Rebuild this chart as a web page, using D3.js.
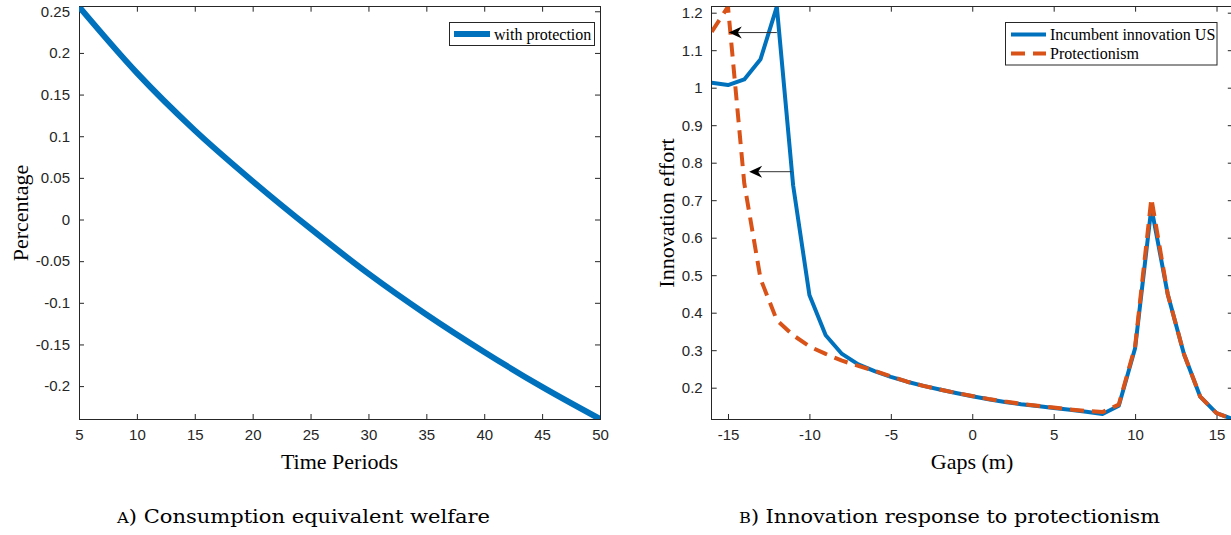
<!DOCTYPE html>
<html>
<head>
<meta charset="utf-8">
<script src="https://cdn.jsdelivr.net/npm/d3@7"></script>
<style>
  html, body { margin: 0; padding: 0; background: #fff; }
  svg { display: block; }
</style>
</head>
<body>
<svg id="chart" width="1231" height="535"></svg>
<script>
// ---------------- DATA ----------------
// Panel A: consumption equivalent welfare
const periods = [5, 10, 15, 20, 25, 30, 35, 40, 45, 50];
const welfare = [0.2555, 0.176, 0.107, 0.046, -0.011, -0.065, -0.114, -0.159, -0.201, -0.2395];
const welfareXTicks = [5, 10, 15, 20, 25, 30, 35, 40, 45, 50];
const welfareYTicks = [-0.2, -0.15, -0.1, -0.05, 0, 0.05, 0.1, 0.15, 0.2, 0.25];
const welfareYTickLabels = ["-0.2", "-0.15", "-0.1", "-0.05", "0", "0.05", "0.1", "0.15", "0.2", "0.25"];

// Panel B: innovation response to protectionism
const gaps = [-16, -15, -14, -13, -12, -11, -10, -9, -8, -7, -6, -5, -4, -3, -2, -1, 0,
              1, 2, 3, 4, 5, 6, 7, 8, 9, 10, 11, 12, 13, 14, 15, 16];
const incumbentUS = [1.013, 1.007, 1.022, 1.076, 1.216, 0.74, 0.447, 0.34, 0.29, 0.262, 0.244, 0.229, 0.216, 0.205, 0.195, 0.186, 0.177,
                     0.169, 0.162, 0.156, 0.151, 0.146, 0.141, 0.136, 0.130, 0.152, 0.305, 0.68, 0.45, 0.29, 0.176, 0.132, 0.1165];
const protectionism = [1.149, 1.216, 0.745, 0.49, 0.38, 0.34, 0.31, 0.29, 0.272, 0.258, 0.245, 0.23, 0.216, 0.205, 0.195, 0.186, 0.178,
                       0.170, 0.163, 0.157, 0.152, 0.147, 0.142, 0.138, 0.135, 0.155, 0.31, 0.705, 0.45, 0.29, 0.176, 0.132, 0.1165];
const gapXTicks = [-15, -10, -5, 0, 5, 10, 15];
const gapYTicks = [0.2, 0.3, 0.4, 0.5, 0.6, 0.7, 0.8, 0.9, 1.0, 1.1, 1.2];
const gapYTickLabels = ["0.2", "0.3", "0.4", "0.5", "0.6", "0.7", "0.8", "0.9", "1", "1.1", "1.2"];
// arrows: start gap, end gap, level
const arrowFrom = [-12.0, -11.1];
const arrowTo = [-14.95, -13.7];
const arrowLevel = [1.147, 0.776];

const seriesNames = ["Incumbent innovation US", "Protectionism"];
const welfareName = "with protection";

// ---------------- STYLE ----------------
const BLUE = "#0072BD", ORANGE = "#D95319", AXIS = "#262626";
const TICKFONT = "'Liberation Sans', Arial, sans-serif";
const SERIF = "'Liberation Serif', 'Times New Roman', serif";
const CAPFONT = "'DejaVu Serif', serif";

const svg = d3.select("#chart");

function drawPanel(opt) {
  const { x, y, xTicks, yTicks, yLabels, id } = opt;
  const [x0, x1] = x.range();
  const [y0, y1] = y.range(); // y0 bottom, y1 top
  const g = svg.append("g");

  g.append("clipPath").attr("id", id).append("rect")
    .attr("x", x0).attr("y", y1).attr("width", x1 - x0).attr("height", y0 - y1);

  const bx = g.append("g").attr("transform", `translate(0,${y0})`)
    .call(d3.axisBottom(x).tickValues(xTicks).tickSizeInner(-5).tickSizeOuter(0).tickPadding(10)
      .tickFormat(d => String(d)));
  const tx = g.append("g").attr("transform", `translate(0,${y1})`)
    .call(d3.axisTop(x).tickValues(xTicks).tickSizeInner(-5).tickSizeOuter(0).tickFormat(""));
  const ly = g.append("g").attr("transform", `translate(${x0},0)`)
    .call(d3.axisLeft(y).tickValues(yTicks).tickSizeInner(-5).tickSizeOuter(0).tickPadding(9)
      .tickFormat((d, i) => yLabels[i]));
  const ry = g.append("g").attr("transform", `translate(${x1},0)`)
    .call(d3.axisRight(y).tickValues(yTicks).tickSizeInner(-5).tickSizeOuter(0).tickFormat(""));

  [bx, tx, ly, ry].forEach(a => {
    a.select(".domain").remove();
    a.selectAll(".tick line").attr("stroke", AXIS).attr("stroke-width", 1);
    a.selectAll(".tick text").attr("fill", AXIS).style("font-family", TICKFONT).style("font-size", "15px");
  });
  bx.selectAll(".tick text").attr("dy", "0.71em");

  g.append("rect").attr("x", x0).attr("y", y1).attr("width", x1 - x0).attr("height", y0 - y1)
    .attr("fill", "none").attr("stroke", AXIS).attr("stroke-width", 1).attr("shape-rendering", "crispEdges");
  return g;
}

// ---------------- PANEL A ----------------
const xA = d3.scaleLinear().domain(d3.extent(periods)).range([79, 600]);
const yA = d3.scaleLinear().domain(d3.extent(welfare)).range([419, 6.7]);
const gA = drawPanel({ x: xA, y: yA, xTicks: welfareXTicks, yTicks: welfareYTicks, yLabels: welfareYTickLabels, id: "clipA" });

gA.append("path")
  .datum(periods.map((p, i) => [p, welfare[i]]))
  .attr("clip-path", "url(#clipA)")
  .attr("fill", "none").attr("stroke", BLUE).attr("stroke-width", 6)
  .attr("d", d3.line().x(d => xA(d[0])).y(d => yA(d[1])).curve(d3.curveMonotoneX));

// legend A
const legA = gA.append("g");
legA.append("rect").attr("x", 449.5).attr("y", 22.5).attr("width", 145).attr("height", 23)
  .attr("fill", "#fff").attr("stroke", AXIS).attr("stroke-width", 1);
legA.append("line").attr("x1", 454).attr("x2", 490).attr("y1", 34).attr("y2", 34)
  .attr("stroke", BLUE).attr("stroke-width", 6);
legA.append("text").attr("x", 494).attr("y", 39.5).text(welfareName)
  .style("font-family", SERIF).style("font-size", "16px").attr("fill", "#000");

// axis labels A
svg.append("text").attr("x", 339.5).attr("y", 469).attr("text-anchor", "middle")
  .style("font-family", SERIF).style("font-size", "22px").text("Time Periods");
svg.append("text").attr("transform", "translate(28,213) rotate(-90)").attr("text-anchor", "middle")
  .style("font-family", SERIF).style("font-size", "22px").text("Percentage");

// ---------------- PANEL B ----------------
const xB = d3.scaleLinear().domain(d3.extent(gaps)).range([711.7, 1232.8]);
const yB = d3.scaleLinear().domain(d3.extent(incumbentUS.concat(protectionism))).range([419, 6.7]);
const gB = drawPanel({ x: xB, y: yB, xTicks: gapXTicks, yTicks: gapYTicks, yLabels: gapYTickLabels, id: "clipB" });

const lineB = d3.line().x(d => xB(d[0])).y(d => yB(d[1]));
gB.append("path")
  .datum(gaps.map((v, i) => [v, incumbentUS[i]]))
  .attr("clip-path", "url(#clipB)")
  .attr("fill", "none").attr("stroke", BLUE).attr("stroke-width", 4).attr("stroke-linejoin", "round")
  .attr("d", lineB);
gB.append("path")
  .datum(gaps.map((v, i) => [v, protectionism[i]]))
  .attr("clip-path", "url(#clipB)")
  .attr("fill", "none").attr("stroke", ORANGE).attr("stroke-width", 4).attr("stroke-dasharray", "14,8")
  .attr("stroke-linejoin", "round")
  .attr("d", lineB);

// arrows
arrowFrom.forEach((a, i) => {
  const xs = xB(a), xe = xB(arrowTo[i]), yy = yB(arrowLevel[i]);
  gB.append("line").attr("x1", xs).attr("x2", xe + 6).attr("y1", yy).attr("y2", yy)
    .attr("stroke", "#333").attr("stroke-width", 1);
  gB.append("path")
    .attr("d", `M${xe},${yy} L${xe + 13},${yy - 6} L${xe + 9},${yy} L${xe + 13},${yy + 6} Z`)
    .attr("fill", "#000");
});

// legend B
const legB = gB.append("g");
legB.append("rect").attr("x", 1005.5).attr("y", 22.5).attr("width", 211.5).attr("height", 42.5)
  .attr("fill", "#fff").attr("stroke", AXIS).attr("stroke-width", 1);
legB.append("line").attr("x1", 1011).attr("x2", 1046).attr("y1", 34.5).attr("y2", 34.5)
  .attr("stroke", BLUE).attr("stroke-width", 4);
legB.append("line").attr("x1", 1011).attr("x2", 1046).attr("y1", 53.5).attr("y2", 53.5)
  .attr("stroke", ORANGE).attr("stroke-width", 4).attr("stroke-dasharray", "14,8");
legB.selectAll("text.leg").data(seriesNames).enter().append("text")
  .attr("x", 1050).attr("y", (d, i) => 40 + i * 19).text(d => d)
  .style("font-family", SERIF).style("font-size", "16px").attr("fill", "#000");

// axis labels B
svg.append("text").attr("x", 972).attr("y", 469).attr("text-anchor", "middle")
  .style("font-family", SERIF).style("font-size", "22px").text("Gaps (m)");
svg.append("text").attr("transform", "translate(674,213) rotate(-90)").attr("text-anchor", "middle")
  .style("font-family", SERIF).style("font-size", "22px").text("Innovation effort");

// ---------------- CAPTIONS ----------------
function caption(cx, width, letter, rest) {
  const t = svg.append("text").attr("x", cx - width / 2).attr("y", 523)
    .style("font-family", CAPFONT).style("font-size", "18px").attr("fill", "#000")
    .attr("textLength", width).attr("lengthAdjust", "spacingAndGlyphs");
  t.append("tspan").style("font-size", "14px").text(letter);
  t.append("tspan").text(rest);
}
caption(303.5, 373, "A", ") Consumption equivalent welfare");
caption(949.5, 421, "B", ") Innovation response to protectionism");
</script>
</body>
</html>
